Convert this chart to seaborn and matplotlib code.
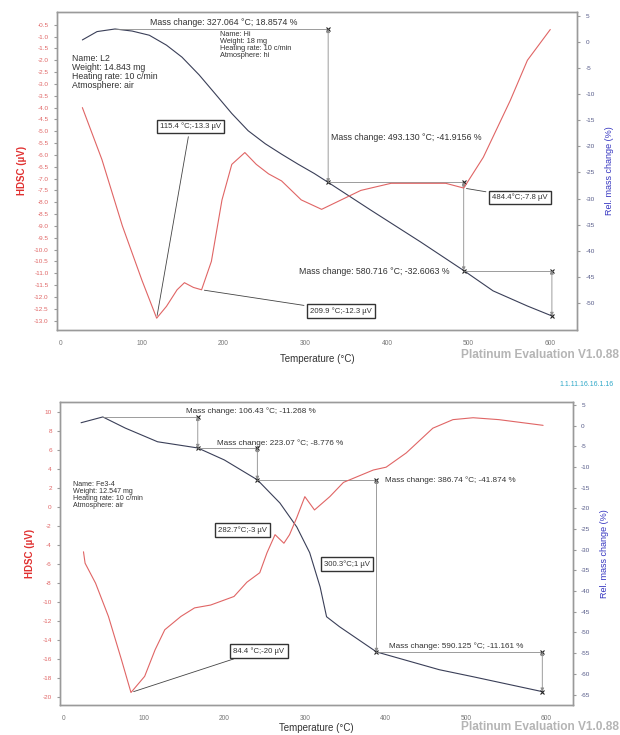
import numpy as np
import pandas as pd
import matplotlib
matplotlib.use('Agg')
import matplotlib.pyplot as plt
import seaborn as sns

# ---------------- muestra superior (L2) ----------------
t_dsc_1 = [27, 51, 76, 100, 118, 130, 143, 152, 163, 173, 185, 198, 210, 226, 240, 255,
           271, 295, 320, 344, 368, 405, 441, 472, 494, 518, 551, 572, 600]
dsc_1 = [-4.0, -6.2, -9.0, -11.3, -12.9, -12.4, -11.7, -11.4, -11.6, -11.7, -10.5, -7.9,
         -6.4, -5.9, -6.4, -6.8, -7.1, -7.9, -8.3, -7.9, -7.5, -7.2, -7.2, -7.2, -7.4,
         -6.1, -3.7, -2.0, -0.7]
t_tg_1 = [27, 45, 67, 88, 109, 130, 149, 170, 189, 210, 230, 251, 271, 291, 311, 328,
          380, 441, 494, 530, 572, 602]
tg_1 = [0.4, 2.0, 2.5, 2.1, 1.3, -0.6, -2.9, -6.3, -9.8, -13.7, -17.0, -19.5, -21.5,
        -23.4, -25.2, -26.9, -32.2, -38.3, -43.8, -47.7, -50.6, -52.5]

# ---------------- muestra inferior (Fe3-4) ----------------
t_dsc_2 = [25, 27, 40, 56, 72, 84, 101, 114, 126, 146, 163, 183, 212, 228, 244, 253, 263,
           274, 281, 290, 300, 312, 331, 348, 385, 401, 426, 459, 484, 509, 541, 596]
dsc_2 = [-4.7, -5.9, -8.0, -11.5, -16.0, -19.5, -17.8, -15.0, -12.9, -11.5, -10.6, -10.3,
         -9.4, -7.9, -6.9, -4.8, -2.9, -3.8, -2.9, -1.1, 1.1, -0.3, 1.1, 2.6, 3.9, 4.2,
         5.7, 8.3, 9.2, 9.4, 9.2, 8.6]
t_tg_2 = [22, 49, 77, 117, 167, 200, 241, 269, 290, 306, 319, 327, 343, 389, 467, 509, 595]
tg_2 = [0.7, 2.1, -0.6, -3.9, -5.4, -8.3, -13.1, -18.7, -24.5, -30.7, -39.0, -46.2,
        -48.6, -54.7, -59.0, -60.7, -64.3]

x_ticks = [0, 100, 200, 300, 400, 500, 600]

sns.set_style("white")
plt.rcParams['font.family'] = ['Liberation Sans', 'DejaVu Sans']

RED = '#e06565'
TGC = '#3a3f58'
GRAY = '#8c8c8c'
SPINE = '#9a9a9a'

fig = plt.figure(figsize=(6.2, 7.35), dpi=100)
ax1 = fig.add_axes([0.092, 0.551, 0.839, 0.433])
ax1r = ax1.twinx()
ax2 = fig.add_axes([0.097, 0.041, 0.827, 0.412])
ax2r = ax2.twinx()


def estilo(ax, axr, ylim, yticks, fmt, rlim, rticks, xpad=5):
    ax.set_xlim(-4, 633)
    ax.set_ylim(*ylim)
    axr.set_ylim(*rlim)
    ax.set_xticks(x_ticks)
    ax.set_yticks(yticks)
    ax.set_yticklabels([fmt.format(v) for v in yticks])
    axr.set_yticks(rticks)
    axr.set_yticklabels([str(v) for v in rticks])
    for a in (ax, axr):
        for s in a.spines.values():
            s.set_color(SPINE)
            s.set_linewidth(1.0)
    ax.tick_params(axis='x', labelsize=4.8, colors=SPINE, labelcolor='#777777', length=2,
                   direction='out', pad=5)
    ax.tick_params(axis='y', labelsize=4.6, colors=SPINE, labelcolor=RED, length=2,
                   direction='out', pad=4)
    axr.tick_params(axis='y', labelsize=4.6, length=2, direction='out', colors=SPINE,
                    labelcolor='#555a88', pad=4)
    ax.set_xlabel('Temperature (°C)', fontsize=7, color='#333333', labelpad=xpad)
    ax.set_ylabel('HDSC (µV)', fontsize=7, color='#e03030', fontweight='bold', labelpad=5)
    axr.set_ylabel('Rel. mass change (%)', fontsize=6.5, color='#3535c0', labelpad=7)
    ax.set_zorder(axr.get_zorder() + 1)
    ax.patch.set_visible(False)


def escalon(axr, t_tg, tg, t_from, t_to, y0=None):
    if y0 is None:
        y0 = np.interp(t_from, t_tg, tg)
    y1 = np.interp(t_to, t_tg, tg)
    axr.plot([t_from, t_to], [y0, y0], color=GRAY, lw=0.6)
    axr.annotate('', xy=(t_to, y1), xytext=(t_to, y0),
                 arrowprops=dict(arrowstyle='<|-|>', color=GRAY, lw=0.6,
                                 mutation_scale=5, shrinkA=0, shrinkB=0))
    axr.plot([t_to, t_to], [y0, y1], ls='none', marker='x', ms=3, mew=0.8, color='#222222')


def caja(ax, texto, xy, xytext, flecha=True):
    ax.annotate(texto, xy=xy, xytext=xytext, fontsize=5.6, ha='center', va='center',
                color='#333333',
                bbox=dict(boxstyle='square,pad=0.4', fc='white', ec='#333333', lw=1.0),
                arrowprops=dict(arrowstyle='-', color='#444444', lw=0.6) if flecha else None)


# ---------------- grafico superior ----------------
df1 = pd.DataFrame({'T': t_dsc_1, 'DSC': dsc_1})
dg1 = pd.DataFrame({'T': t_tg_1, 'TG': tg_1})
sns.lineplot(data=df1, x='T', y='DSC', ax=ax1, color=RED, lw=0.8)
sns.lineplot(data=dg1, x='T', y='TG', ax=ax1r, color=TGC, lw=0.8)
estilo(ax1, ax1r, (-13.4, 0.05), np.arange(-0.5, -13.01, -0.5), '{:.1f}',
       (-55.2, 5.8), list(range(5, -51, -5)))

pico1 = t_tg_1[int(np.argmax(tg_1))]
escalon(ax1r, t_tg_1, tg_1, pico1, 328, y0=max(tg_1))
escalon(ax1r, t_tg_1, tg_1, 328, 494)
escalon(ax1r, t_tg_1, tg_1, 494, 602)
ax1r.text(200, 3.7, 'Mass change: 327.064 °C; 18.8574 %', fontsize=6.3, ha='center',
          va='center', color='#333333')
ax1r.text(332, -18.3, 'Mass change: 493.130 °C; -41.9156 %', fontsize=6.3, ha='left',
          va='center', color='#333333')
ax1r.text(476, -44.0, 'Mass change: 580.716 °C; -32.6063 %', fontsize=6.3, ha='right',
          va='center', color='#333333')

caja(ax1, '115.4 °C;-13.3 µV', (118, np.interp(118, t_dsc_1, dsc_1)), (159, -4.8))
caja(ax1, '484.4°C;-7.8 µV', (494, np.interp(494, t_dsc_1, dsc_1)), (563, -7.8))
caja(ax1, '209.9 °C;-12.3 µV', (173, np.interp(173, t_dsc_1, dsc_1)), (344, -12.6))

ax1.text(14, -1.75, 'Name: L2\nWeight: 14.843 mg\nHeating rate: 10 c/min\nAtmosphere: air',
         fontsize=6.3, va='top', ha='left', color='#333333', linespacing=1.0)
ax1.text(195, -0.75, 'Name: Hi\nWeight: 18 mg\nHeating rate: 10 c/min\nAtmosphere: hi',
         fontsize=5.3, va='top', ha='left', color='#333333', linespacing=1.0)

# ---------------- grafico inferior ----------------
df2 = pd.DataFrame({'T': t_dsc_2, 'DSC': dsc_2})
dg2 = pd.DataFrame({'T': t_tg_2, 'TG': tg_2})
sns.lineplot(data=df2, x='T', y='DSC', ax=ax2, color=RED, lw=0.8)
sns.lineplot(data=dg2, x='T', y='TG', ax=ax2r, color=TGC, lw=0.8)
estilo(ax2, ax2r, (-20.8, 11.05), list(range(10, -21, -2)), '{}',
       (-67.5, 5.7), list(range(5, -66, -5)), xpad=1)

pico2 = t_tg_2[int(np.argmax(tg_2))]
escalon(ax2r, t_tg_2, tg_2, pico2, 167, y0=max(tg_2))
escalon(ax2r, t_tg_2, tg_2, 167, 241)
escalon(ax2r, t_tg_2, tg_2, 241, 389)
escalon(ax2r, t_tg_2, tg_2, 389, 595)
ax2r.text(152, 3.4, 'Mass change: 106.43 °C; -11.268 %', fontsize=5.9, ha='left',
          va='center', color='#333333')
ax2r.text(191, -4.2, 'Mass change: 223.07 °C; -8.776 %', fontsize=5.9, ha='left',
          va='center', color='#333333')
ax2r.text(399, -13.1, 'Mass change: 386.74 °C; -41.874 %', fontsize=5.9, ha='left',
          va='center', color='#333333')
ax2r.text(404, -53.4, 'Mass change: 590.125 °C; -11.161 %', fontsize=5.9, ha='left',
          va='center', color='#333333')

caja(ax2, '84.4 °C;-20 µV', (84, np.interp(84, t_dsc_2, dsc_2)), (243, -15.1))
caja(ax2, '282.7°C;-3 µV', (263, -2.9), (222, -2.4), flecha=False)
caja(ax2, '300.3°C;1 µV', (300, 1.1), (352, -6.0), flecha=False)

ax2.text(12, 2.7, 'Name: Fe3-4\nWeight: 12.547 mg\nHeating rate: 10 c/min\nAtmosphere: air',
         fontsize=5.1, va='top', ha='left', color='#333333', linespacing=1.0)

# ---------------- textos de la figura ----------------
fig.text(0.998, 1 - 355 / 735, 'Platinum Evaluation V1.0.88', fontsize=8.6, color='#b5b5b5',
         ha='right', va='center', fontweight='bold')
fig.text(0.998, 1 - 727 / 735, 'Platinum Evaluation V1.0.88', fontsize=8.6, color='#b5b5b5',
         ha='right', va='center', fontweight='bold')
fig.text(0.99, 1 - 385 / 735, '1.1.11.16.16.1.16', fontsize=5, color='#2fa8c8',
         ha='right', va='center')

fig.savefig('out.png', dpi=100)
